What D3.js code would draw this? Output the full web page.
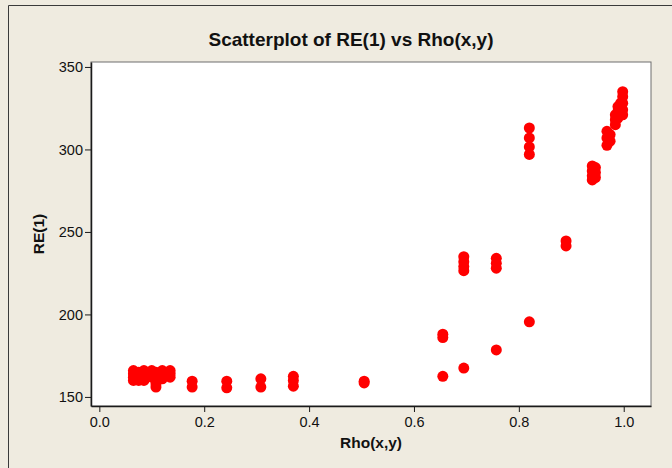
<!DOCTYPE html>
<html>
<head>
<meta charset="utf-8">
<script src="https://cdn.jsdelivr.net/npm/d3@7"></script>
<style>
  body { margin: 0; background: #efebe0; }
  svg { display: block; font-family: "Liberation Sans", Arial, sans-serif; }
</style>
</head>
<body>
<div id="chart"></div>
<script>
// Data: one Rho(x,y) level per column, with the RE(1) values seen at it
const rhoLevels = [0.065, 0.075, 0.085, 0.100, 0.108, 0.120, 0.135,
  0.177, 0.243, 0.308, 0.370, 0.505,
  0.655, 0.695, 0.757, 0.820, 0.890,
  0.940, 0.946, 0.968, 0.974, 0.984, 0.989, 0.994, 0.998];
const reByLevel = [
  [160, 162, 164, 166],
  [160, 163, 165],
  [160, 163, 166],
  [162, 164, 166],
  [156, 158, 160, 163, 165],
  [161, 163, 166],
  [162, 164, 166],
  [156, 159.5],
  [155.5, 159.5],
  [156, 161],
  [156.5, 160, 162.5],
  [158.5, 159.5],
  [162.5, 186, 188],
  [167.5, 226.5, 229, 232, 235],
  [178.5, 228, 231, 234],
  [195.5, 297, 301.5, 307, 313],
  [241.5, 244.5],
  [281.5, 284, 287, 290],
  [283, 286, 289],
  [302.5, 307, 311],
  [305, 309],
  [315, 318, 321],
  [319, 323, 326],
  [321, 325, 328],
  [321, 324, 328, 332, 335]
];
const xTicks = [0.0, 0.2, 0.4, 0.6, 0.8, 1.0];
const yTicks = [150, 200, 250, 300, 350];

const points = [];
rhoLevels.forEach((r, i) => reByLevel[i].forEach(v => points.push({ x: r, y: v })));

const width = 672, height = 468;
const plot = { left: 91, right: 651, top: 62, bottom: 406 };

const svg = d3.select("#chart").append("svg")
  .attr("width", width)
  .attr("height", height);

svg.append("rect")
  .attr("width", width).attr("height", height)
  .attr("fill", "#efebe0");

// outer frame (only top and left edges show in the window)
svg.append("path")
  .attr("d", "M8.5," + height + "V5.5H" + width)
  .attr("fill", "none")
  .attr("stroke", "#3a3a3a");

var x = d3.scaleLinear().domain([-0.0159, 1.052]).range([plot.left, plot.right]);
var y = d3.scaleLinear().domain([144.5, 353]).range([plot.bottom, plot.top]);

svg.append("rect")
  .attr("x", plot.left).attr("y", plot.top)
  .attr("width", plot.right - plot.left)
  .attr("height", plot.bottom - plot.top)
  .attr("fill", "white")
  .attr("stroke", "#6e6e6e");

// points
svg.append("g").selectAll("circle")
  .data(points)
  .enter()
  .append("circle")
    .attr("cx", d => x(d.x))
    .attr("cy", d => y(d.y))
    .attr("r", 5.5)
    .attr("fill", "#ff0000");

// axes
var xAxis = svg.append("g")
  .attr("transform", "translate(0," + plot.bottom + ")")
  .call(d3.axisBottom(x).tickValues(xTicks).tickFormat(d3.format(".1f")).tickSize(6).tickSizeOuter(0).tickPadding(5));
var yAxis = svg.append("g")
  .attr("transform", "translate(" + plot.left + ",0)")
  .call(d3.axisLeft(y).tickValues(yTicks).tickSize(6).tickSizeOuter(0).tickPadding(2));

[xAxis, yAxis].forEach(a => {
  a.select(".domain").attr("stroke", "#1a1a1a").attr("stroke-width", 1.5);
  a.selectAll(".tick line").attr("stroke", "#1a1a1a");
  a.selectAll(".tick text")
    .attr("font-size", 14.5)
    .attr("font-family", "'Liberation Sans', Arial, sans-serif")
    .attr("fill", "#111");
});

// titles
svg.append("text")
  .attr("x", 351).attr("y", 46)
  .attr("text-anchor", "middle")
  .attr("font-size", 19).attr("font-weight", "bold")
  .attr("fill", "#111")
  .text("Scatterplot of RE(1) vs Rho(x,y)");

svg.append("text")
  .attr("x", (plot.left + plot.right) / 2).attr("y", 448)
  .attr("text-anchor", "middle")
  .attr("font-size", 15.5).attr("font-weight", "bold")
  .attr("fill", "#111")
  .text("Rho(x,y)");

svg.append("text")
  .attr("transform", "translate(44," + ((plot.top + plot.bottom) / 2) + ") rotate(-90)")
  .attr("text-anchor", "middle")
  .attr("font-size", 15.5).attr("font-weight", "bold")
  .attr("fill", "#111")
  .text("RE(1)");
</script>
</body>
</html>
